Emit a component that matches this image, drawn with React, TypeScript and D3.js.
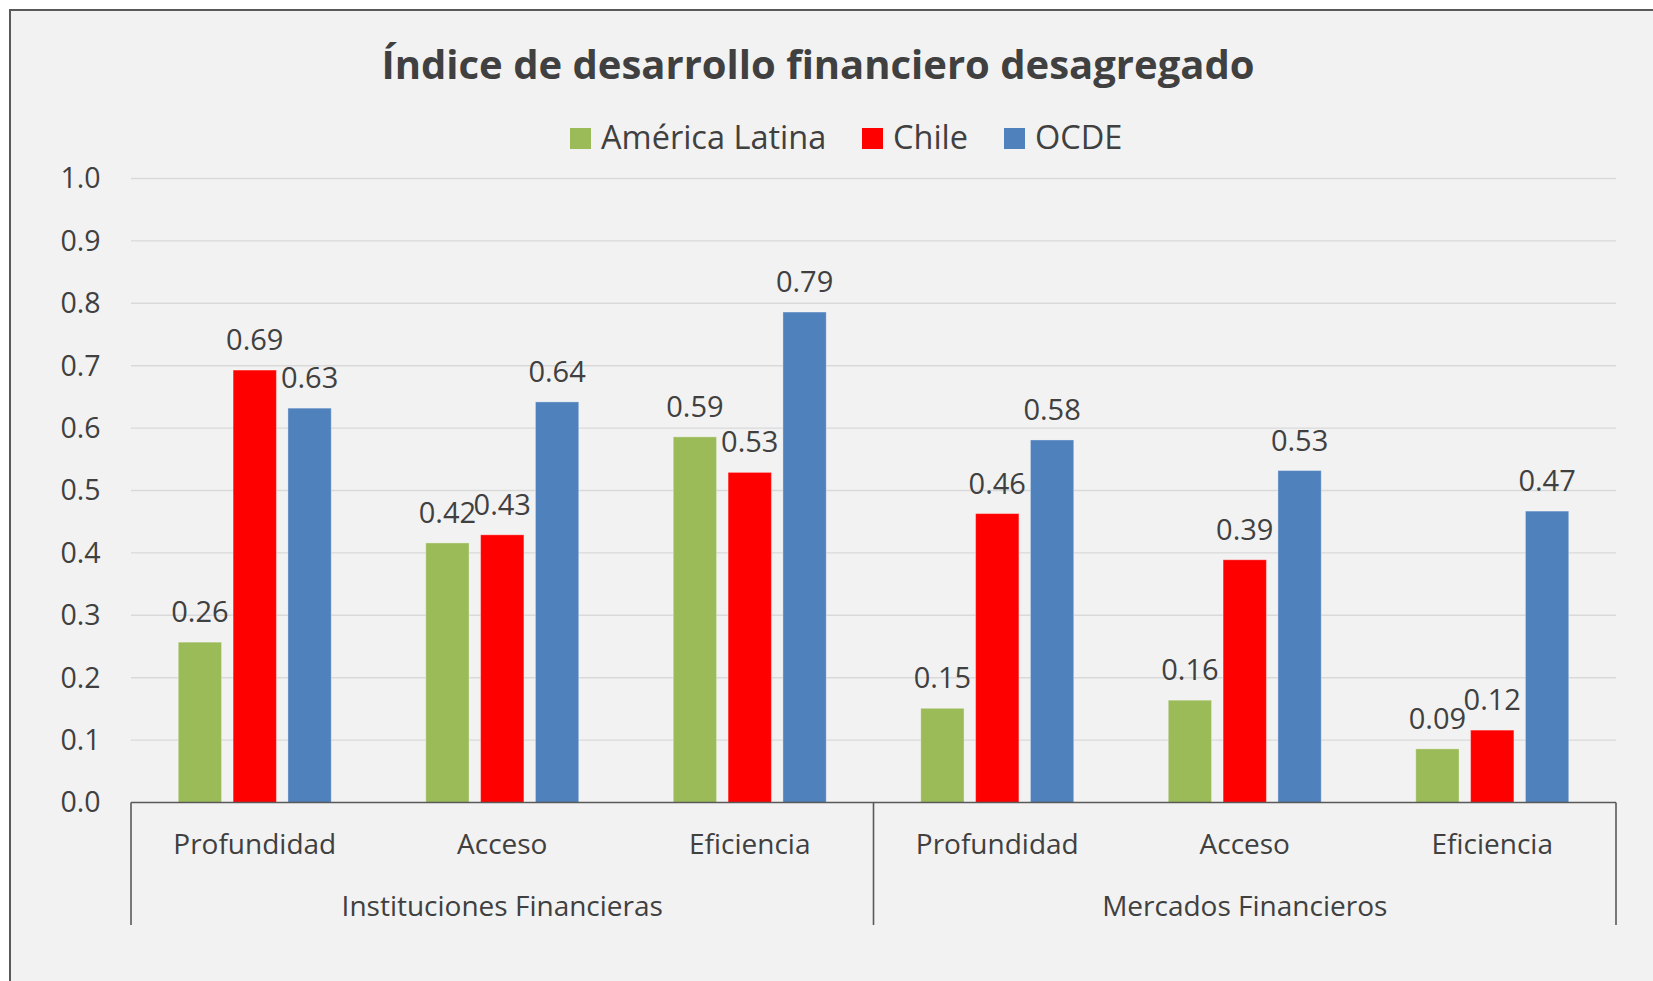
import React from 'react';
import * as d3 from 'd3';

// chart data
const groups = ['Instituciones Financieras', 'Mercados Financieros'];
const subcategories = ['Profundidad', 'Acceso', 'Eficiencia'];
const series = ['América Latina', 'Chile', 'OCDE'];
const colors = ['#9bbb59', '#ff0000', '#4f81bd'];

const americaLatina = [0.257, 0.416, 0.586, 0.151, 0.164, 0.086];
const chile = [0.693, 0.429, 0.529, 0.463, 0.389, 0.116];
const ocde = [0.632, 0.642, 0.786, 0.581, 0.532, 0.467];
const yTicks = [0, 0.1, 0.2, 0.3, 0.4, 0.5, 0.6, 0.7, 0.8, 0.9, 1.0];

const W = 1653;
const H = 981;
const FONT = '"Open Sans", "Noto Sans", sans-serif';
const TEXT = '#404040';

export default function App() {
  const values = [americaLatina, chile, ocde];
  // one slot per subcategory inside each group
  const slots = groups.flatMap((g) => subcategories.map((s) => `${g}|${s}`));

  const plotLeft = 131;
  const plotRight = 1616;
  const y0 = 802.5;
  const y1 = 178.5;

  const x = d3.scaleBand().domain(slots).range([plotLeft, plotRight]).padding(0);
  const step = x.bandwidth();
  const inner = d3
    .scaleBand()
    .domain(series)
    .range([step / 2 - 76.5, step / 2 + 76.5])
    .paddingInner(0.21)
    .paddingOuter(0);
  const y = d3.scaleLinear().domain([0, 1]).range([y0, y1]);

  const groupWidth = step * subcategories.length;
  const groupEdges = d3.range(groups.length + 1).map((i) => plotLeft + i * groupWidth);

  // legend layout (square + label)
  const legendX = [570, 862, 1004];

  return (
    <svg
      width={W}
      height={H}
      style={{ position: 'absolute', left: 0, top: 0, fontFamily: FONT }}
    >
      <rect x={0} y={0} width={W} height={H} fill="#ffffff" />
      <rect x={10} y={10} width={W} height={H} fill="#f2f2f2" stroke="#595959" strokeWidth={2} />

      {/* title */}
      <text x={818} y={78.5} textAnchor="middle" fontSize={40} fontWeight="bold" fill={TEXT}>
        Índice de desarrollo financiero desagregado
      </text>

      {/* legend */}
      {series.map((s, i) => (
        <g key={s} transform={`translate(${legendX[i]}, 128)`}>
          <rect width={21} height={21} fill={colors[i]} />
          <text x={31} y={21} fontSize={32.5} fill={TEXT}>
            {s}
          </text>
        </g>
      ))}

      {/* gridlines and y tick labels */}
      {yTicks.map((t) => (
        <g key={t}>
          {t > 0 && (
            <line x1={plotLeft} x2={plotRight} y1={y(t)} y2={y(t)} stroke="#d9d9d9" strokeWidth={1.4} />
          )}
          <text x={100.5} y={y(t) + 9.8} textAnchor="end" fontSize={28.5} fill={TEXT}>
            {t.toFixed(1)}
          </text>
        </g>
      ))}

      {/* bars */}
      {slots.map((slot, ci) => (
        <g key={slot} transform={`translate(${x(slot)}, 0)`}>
          {series.map((s, si) => {
            const v = values[si][ci];
            const bx = inner(s) as number;
            return (
              <g key={s}>
                <rect
                  x={bx}
                  y={y(v)}
                  width={inner.bandwidth()}
                  height={y0 - y(v)}
                  fill={colors[si]}
                  stroke="rgba(255,255,255,0.35)"
                  strokeWidth={1}
                />
                <text
                  x={bx + inner.bandwidth() / 2}
                  y={y(v) - 20}
                  textAnchor="middle"
                  fontSize={29}
                  fill={TEXT}
                >
                  {v.toFixed(2)}
                </text>
              </g>
            );
          })}
          <text x={step / 2} y={854.3} textAnchor="middle" fontSize={28} fill={TEXT}>
            {slot.split('|')[1]}
          </text>
        </g>
      ))}

      {/* category axis */}
      <line x1={plotLeft} x2={plotRight} y1={y0} y2={y0} stroke="#595959" strokeWidth={1.6} />
      {groupEdges.map((gx) => (
        <line key={gx} x1={gx} x2={gx} y1={y0} y2={925} stroke="#595959" strokeWidth={1.6} />
      ))}
      {groups.map((g, i) => (
        <text
          key={g}
          x={groupEdges[i] + groupWidth / 2}
          y={916}
          textAnchor="middle"
          fontSize={28}
          fill={TEXT}
        >
          {g}
        </text>
      ))}
    </svg>
  );
}
